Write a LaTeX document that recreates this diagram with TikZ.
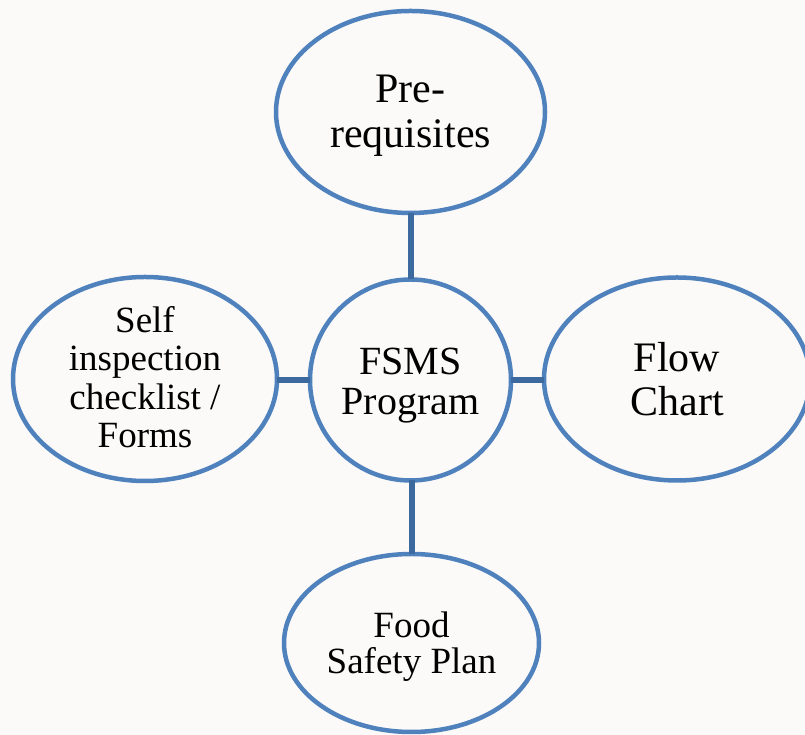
\documentclass[tikz,border=0pt]{standalone}
\usepackage{fontspec}
\setmainfont{Liberation Serif}
\usetikzlibrary{shapes.geometric}
\definecolor{bg}{HTML}{FBFAF9}
\definecolor{rim}{HTML}{4F81BD}
\definecolor{linkc}{HTML}{3C6A9E}
\begin{document}
\begin{tikzpicture}[x=1pt,y=1pt,
  bubble/.style={ellipse, draw=rim, line width=4.5pt, fill=bg, inner sep=0pt, outer sep=0pt},
  caption/.style={align=center, text=black, inner sep=0pt},
  link/.style={draw=linkc, line width=6pt}]
\fill[bg] (0,0) rectangle (805,735);
\useasboundingbox (0,0) rectangle (805,735);
\node[bubble, minimum width=269pt, minimum height=202pt] (pre) at (410.5,623) {};
\node[bubble, minimum width=201pt, minimum height=201pt] (core) at (410.5,355) {};
\node[bubble, minimum width=264pt, minimum height=204pt] (self) at (145,356) {};
\node[bubble, minimum width=266pt, minimum height=203pt] (flow) at (677,356) {};
\node[bubble, minimum width=255pt, minimum height=178pt] (food) at (411.5,92) {};
\node[caption, font=\fontsize{42}{45}\selectfont] (pretext) at ([yshift=-4pt]pre.center) {Pre-\\requisites};
\node[caption, font=\fontsize{40}{40}\selectfont] (coretext) at ([yshift=-6pt]core.center) {FSMS\\Program};
\node[caption, font=\fontsize{37}{38.5}\selectfont] (selftext) at ([yshift=2pt]self.center) {Self\\inspection\\checklist /\\Forms};
\node[caption, font=\fontsize{42}{44}\selectfont] (flowtext) at (flow.center) {Flow\\Chart};
\node[caption, font=\fontsize{37}{36}\selectfont] (foodtext) at ([yshift=-4pt]food.center) {Food\\Safety Plan};
\draw[link] (pre.south) -- (pre.south |- core.north);
\draw[link] (food.north) -- (food.north |- core.south);
\draw[link] (self.east |- core.west) -- (core.west);
\draw[link] (core.east) -- (core.east -| flow.west);
\end{tikzpicture}
\end{document}
